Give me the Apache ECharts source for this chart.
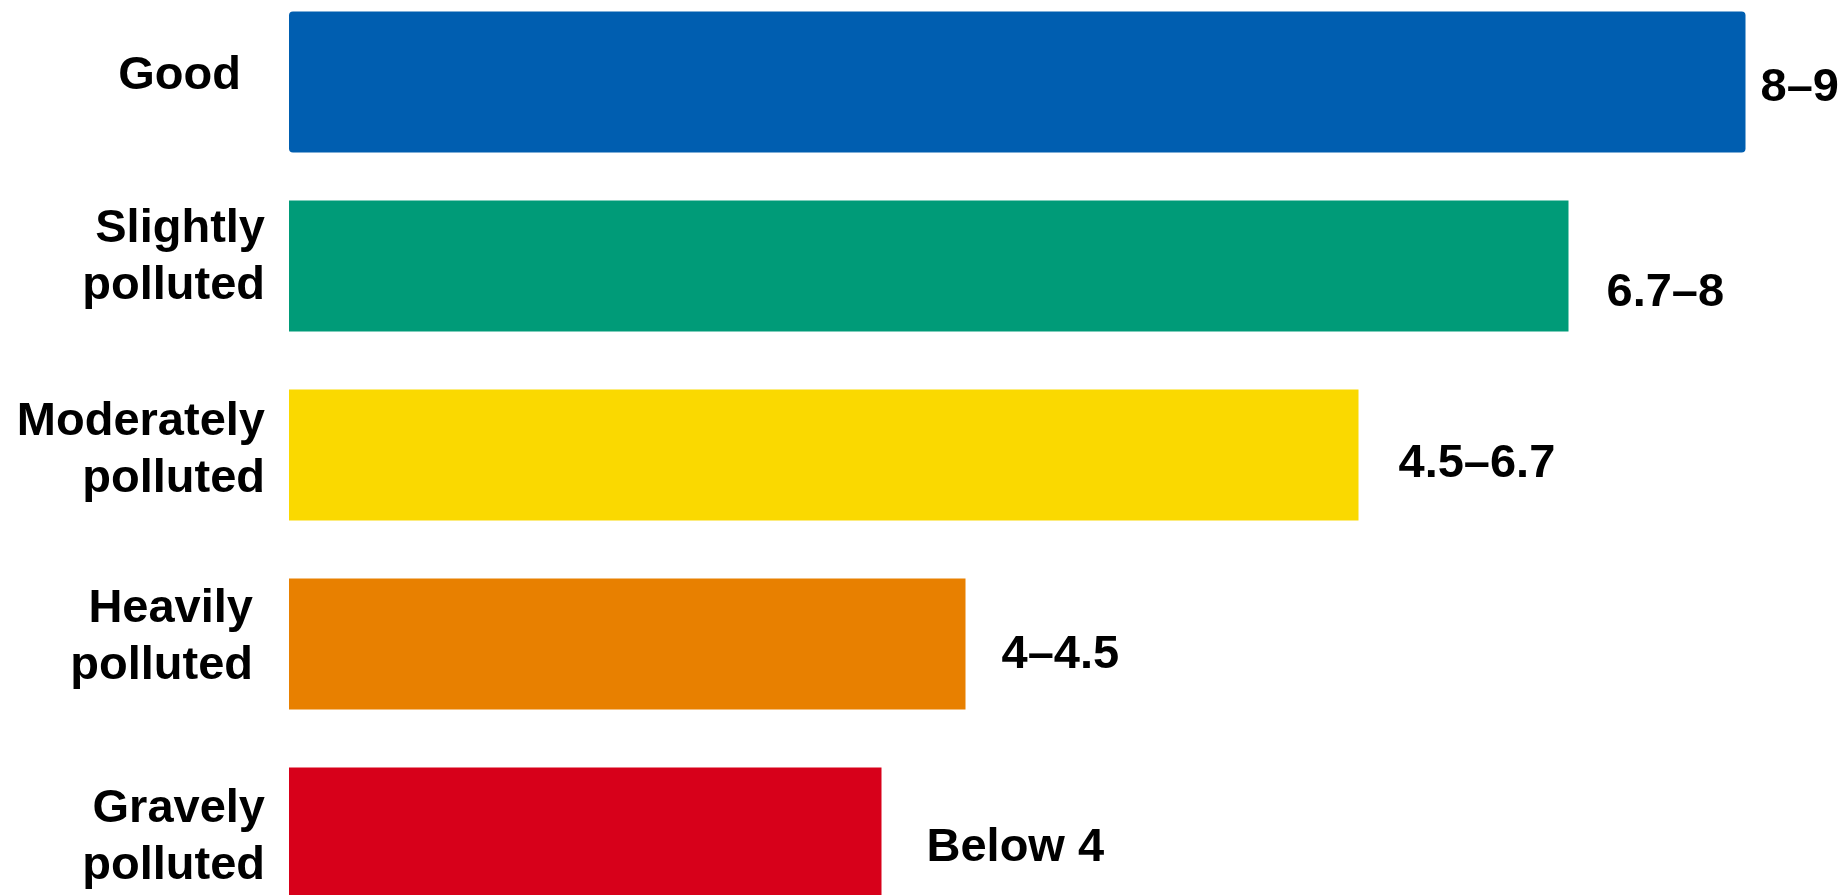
<!DOCTYPE html>
<html>
<head>
<meta charset="utf-8">
<script src="https://cdn.jsdelivr.net/npm/echarts@6/dist/echarts.min.js"></script>
<style>
  html, body { margin: 0; padding: 0; background: #ffffff; }
  #chart { width: 1845px; height: 895px; }
</style>
</head>
<body>
<div id="chart"></div>
<script>
// ---- data ----
const categories = ['Good', 'Slightly polluted', 'Moderately polluted', 'Heavily polluted', 'Gravely polluted'];
const barLengths = [97.1, 85.3, 71.3, 45.1, 39.5];
const rangeLabels = ['8\u20139', '6.7\u20138', '4.5\u20136.7', '4\u20134.5', 'Below 4'];
const barColors = ['#005EB0', '#009B78', '#FAD900', '#E88000', '#D7001A'];

// ---- styling (kept apart from data) ----
const FONT = '"Liberation Sans", Arial, sans-serif';
const FS = 47;
const catPadRight = [24, 0, 0, 12, 0];
const catShiftY = [-5.5, -13, -9.5, -11.5, 0];
const valDistance = [15, 38, 40, 36, 45];
const valOffsetY = [6, 27, 9, 11, 15];

const rich = {};
catShiftY.forEach((s, i) => {
  rich['g' + i] = { fontSize: 1, lineHeight: Math.max(1, Math.abs(s) * 2), height: Math.max(1, Math.abs(s) * 2) };
});

const yData = categories.map((c, i) => ({
  value: c,
  textStyle: { padding: [0, catPadRight[i], 0, 0] }
}));

function makeItem(v, i) {
  return {
    value: v,
    itemStyle: { color: barColors[i], borderRadius: i === 0 ? 4 : 0 },
    label: {
      formatter: rangeLabels[i],
      distance: valDistance[i],
      offset: [0, valOffsetY[i]]
    }
  };
}
// first category drawn as a slightly thicker bar, others in a second series
const topData = barLengths.map((v, i) => (i === 0 ? makeItem(v, i) : '-'));
const restData = barLengths.map((v, i) => (i === 0 ? '-' : makeItem(v, i)));

const labelStyle = {
  show: true,
  position: 'right',
  color: '#000000',
  fontFamily: FONT,
  fontWeight: 'bold',
  fontSize: FS
};

const chart = echarts.init(document.getElementById('chart'), null, { renderer: 'canvas' });
chart.setOption({
  backgroundColor: '#ffffff',
  animation: false,
  grid: { left: 289, width: 1500, top: -12.5, height: 945, containLabel: false, outerBoundsMode: 'none' },
  xAxis: {
    type: 'value', min: 0, max: 100,
    show: false
  },
  yAxis: {
    type: 'category',
    inverse: true,
    data: yData,
    axisLine: { show: false },
    axisTick: { show: false },
    splitLine: { show: false },
    axisLabel: {
      margin: 24,
      align: 'right',
      verticalAlign: 'middle',
      color: '#000000',
      fontFamily: FONT,
      fontWeight: 'bold',
      fontSize: FS,
      lineHeight: 57,
      rich: rich,
      formatter: (v, idx) => {
        const txt = v.replace(' ', '\n');
        const s = catShiftY[idx];
        const gap = '{g' + idx + '|\u00a0}';
        if (s < 0) return txt + '\n' + gap;
        if (s > 0) return gap + '\n' + txt;
        return txt;
      }
    }
  },
  series: [{
    type: 'bar',
    data: restData,
    barWidth: 131,
    barGap: '-100%',
    label: labelStyle
  }, {
    type: 'bar',
    data: topData,
    barWidth: 141,
    barGap: '-100%',
    label: labelStyle
  }]
});
</script>
</body>
</html>
